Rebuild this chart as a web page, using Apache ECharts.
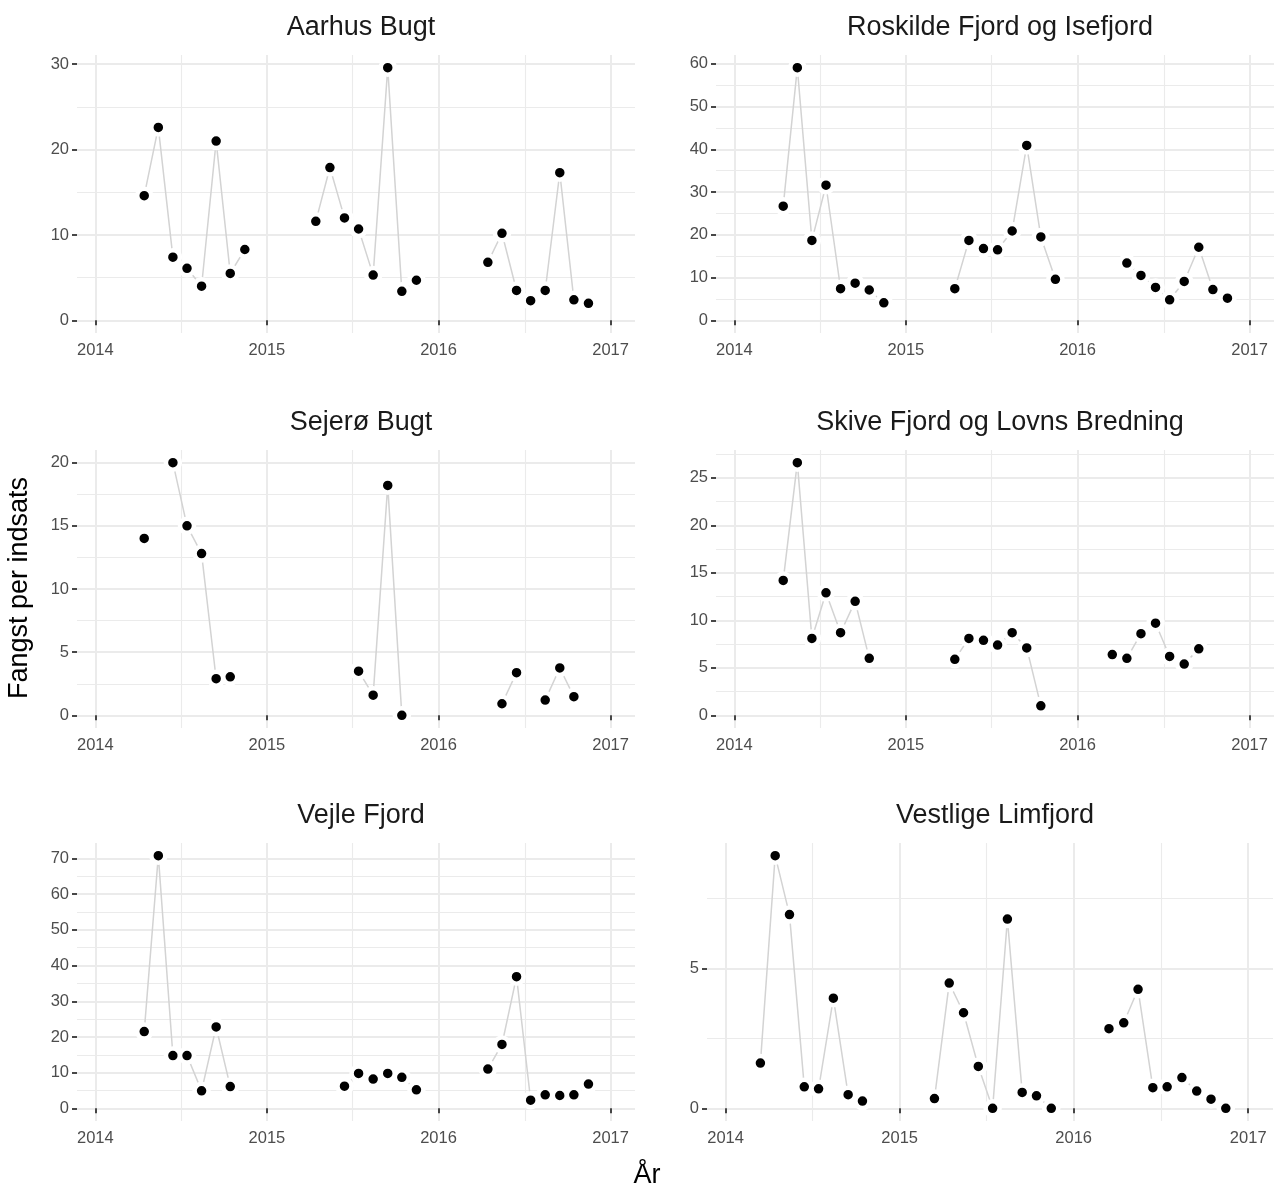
<!DOCTYPE html>
<html><head><meta charset="utf-8">
<script src="https://cdn.jsdelivr.net/npm/echarts@6/dist/echarts.min.js"></script>
<style>html,body{margin:0;padding:0;background:#fff}#c{width:1281px;height:1189px}</style>
</head><body><div id="c"></div>
<script>
// ---- data (month = 'YYYY-MM', plotted at the 15th) ----
const aarhusMonths = ['2014-04','2014-05','2014-06','2014-07','2014-08','2014-09','2014-10','2014-11',
  '2015-04','2015-05','2015-06','2015-07','2015-08','2015-09','2015-10','2015-11',
  '2016-04','2016-05','2016-06','2016-07','2016-08','2016-09','2016-10','2016-11'];
const aarhusValues = [14.6,22.6,7.4,6.1,4.0,21.0,5.5,8.3, 11.6,17.9,12.0,10.7,5.3,29.6,3.4,4.7, 6.8,10.2,3.5,2.3,3.5,17.3,2.4,2.0];
const aarhusYTicks = [0,10,20,30];

const roskildeMonths = ['2014-04','2014-05','2014-06','2014-07','2014-08','2014-09','2014-10','2014-11',
  '2015-04','2015-05','2015-06','2015-07','2015-08','2015-09','2015-10','2015-11',
  '2016-04','2016-05','2016-06','2016-07','2016-08','2016-09','2016-10','2016-11'];
const roskildeValues = [26.7,59.1,18.7,31.6,7.4,8.7,7.1,4.1, 7.4,18.7,16.8,16.5,20.9,40.9,19.5,9.6, 13.4,10.5,7.7,4.8,9.1,17.1,7.2,5.2];
const roskildeYTicks = [0,10,20,30,40,50,60];

const sejeroMonths = ['2014-04','2014-06','2014-07','2014-08','2014-09','2014-10',
  '2015-07','2015-08','2015-09','2015-10',
  '2016-05','2016-06','2016-08','2016-09','2016-10'];
const sejeroValues = [14.0,20.0,15.0,12.8,2.9,3.05, 3.5,1.6,18.2,0.0, 0.92,3.38,1.21,3.75,1.48];
const sejeroYTicks = [0,5,10,15,20];

const skiveMonths = ['2014-04','2014-05','2014-06','2014-07','2014-08','2014-09','2014-10',
  '2015-04','2015-05','2015-06','2015-07','2015-08','2015-09','2015-10',
  '2016-03','2016-04','2016-05','2016-06','2016-07','2016-08','2016-09'];
const skiveValues = [14.2,26.6,8.1,12.9,8.7,12.0,6.0, 5.9,8.1,7.9,7.4,8.7,7.1,1.0, 6.4,6.0,8.6,9.7,6.2,5.4,7.0];
const skiveYTicks = [0,5,10,15,20,25];

const vejleMonths = ['2014-04','2014-05','2014-06','2014-07','2014-08','2014-09','2014-10',
  '2015-06','2015-07','2015-08','2015-09','2015-10','2015-11',
  '2016-04','2016-05','2016-06','2016-07','2016-08','2016-09','2016-10','2016-11'];
const vejleValues = [21.5,70.8,14.8,14.8,4.9,22.8,6.1, 6.2,9.8,8.2,9.8,8.7,5.2, 11.0,17.9,36.9,2.3,3.8,3.6,3.8,6.8];
const vejleYTicks = [0,10,20,30,40,50,60,70];

const vestligeMonths = ['2014-03','2014-04','2014-05','2014-06','2014-07','2014-08','2014-09','2014-10',
  '2015-03','2015-04','2015-05','2015-06','2015-07','2015-08','2015-09','2015-10','2015-11',
  '2016-03','2016-04','2016-05','2016-06','2016-07','2016-08','2016-09','2016-10','2016-11'];
const vestligeValues = [1.62,9.04,6.93,0.77,0.70,3.94,0.49,0.26, 0.35,4.48,3.42,1.5,0.0,6.77,0.57,0.45,0.0, 2.85,3.06,4.26,0.74,0.77,1.1,0.62,0.33,0.0];
const vestligeYTicks = [0,5];

const xYearTicks = [2014,2015,2016,2017];
const panelTitles = ['Aarhus Bugt','Roskilde Fjord og Isefjord','Sejerø Bugt','Skive Fjord og Lovns Bredning','Vejle Fjord','Vestlige Limfjord'];
const yAxisTitle = 'Fangst per indsats';
const xAxisTitle = 'År';

// ---- layout ----
const FONT = '"Liberation Sans", Arial, sans-serif';
const XMIN = Date.UTC(2013,10,23), XMAX = Date.UTC(2017,1,22);
const rows = [[55,333],[450,728],[843,1121]];
const cols = [[77,635],[716,1274]];
const panels = [
  {title:panelTitles[0], months:aarhusMonths, values:aarhusValues, yTicks:aarhusYTicks, col:cols[0], row:rows[0]},
  {title:panelTitles[1], months:roskildeMonths, values:roskildeValues, yTicks:roskildeYTicks, col:cols[1], row:rows[0]},
  {title:panelTitles[2], months:sejeroMonths, values:sejeroValues, yTicks:sejeroYTicks, col:cols[0], row:rows[1]},
  {title:panelTitles[3], months:skiveMonths, values:skiveValues, yTicks:skiveYTicks, col:cols[1], row:rows[1]},
  {title:panelTitles[4], months:vejleMonths, values:vejleValues, yTicks:vejleYTicks, col:cols[0], row:rows[2]},
  {title:panelTitles[5], months:vestligeMonths, values:vestligeValues, yTicks:vestligeYTicks, col:[707,1273], row:rows[2]}
];

function ts(m){ const p=m.split('-').map(Number); return Date.UTC(p[0],p[1]-1,15); }
function mIndex(m){ const p=m.split('-').map(Number); return p[0]*12+p[1]-1; }
const yearTs = xYearTicks.map(y=>Date.UTC(y,0,1));
const yearMinorTs = xYearTicks.slice(0,-1).map(y=>Date.UTC(y,6,2,12));

const grid=[], xAxis=[], yAxis=[], series=[], title=[];
const GRID = '#ebebeb';
panels.forEach((p,i)=>{
  const [l,r]=p.col, [t,b]=p.row;
  grid.push({left:l, top:t, width:r-l, height:b-t, containLabel:false});
  title.push({text:p.title, left:(l+r)/2, top:t-46, textAlign:'center',
    textStyle:{fontFamily:FONT, fontSize:27, fontWeight:'normal', color:'#1a1a1a'}});
  const data=[];
  p.months.forEach((m,k)=>{
    if(k>0 && mIndex(m)-mIndex(p.months[k-1])>1) data.push([ts(p.months[k-1])+86400000*15,'-']);
    data.push([ts(m), p.values[k]]);
  });
  const vmax = Math.max(...p.values);
  const ymin = -0.05*vmax, ymax = vmax*1.05;
  const step = p.yTicks[1]-p.yTicks[0];
  const yMinor = [];
  for(let v=p.yTicks[0]+step/2; v<ymax; v+=step) yMinor.push(v);
  xAxis.push({gridIndex:i, type:'value', min:XMIN, max:XMAX, scale:true,
    axisLine:{show:false},
    axisTick:{show:true, customValues:yearTs, length:5, lineStyle:{color:'#333333', width:1.8}},
    axisLabel:{customValues:yearTs, formatter:v=>String(new Date(v).getUTCFullYear()), color:'#4d4d4d', fontSize:16.5, fontFamily:FONT, margin:9, showMinLabel:true, showMaxLabel:true},
    splitLine:{show:true, lineStyle:{color:GRID, width:2}}});
  xAxis.push({gridIndex:i, type:'value', min:XMIN, max:XMAX, scale:true,
    axisLine:{show:false},
    axisTick:{show:false, customValues:yearMinorTs},
    axisLabel:{show:false, customValues:yearMinorTs},
    splitLine:{show:true, lineStyle:{color:GRID, width:1.1}}});
  yAxis.push({gridIndex:i, type:'value', min:ymin, max:ymax,
    axisLine:{show:false},
    axisTick:{show:true, customValues:p.yTicks, length:5, lineStyle:{color:'#333333', width:1.8}},
    axisLabel:{customValues:p.yTicks, color:'#4d4d4d', fontSize:16.5, fontFamily:FONT, margin:8},
    splitLine:{show:true, lineStyle:{color:GRID, width:2}}});
  yAxis.push({gridIndex:i, type:'value', min:ymin, max:ymax,
    axisLine:{show:false},
    axisTick:{show:false, customValues:yMinor},
    axisLabel:{show:false, customValues:yMinor},
    splitLine:{show:true, lineStyle:{color:GRID, width:1.1}}});
  series.push({type:'line', xAxisIndex:2*i, yAxisIndex:2*i, data:data,
    symbol:'circle', symbolSize:14, showSymbol:true, showAllSymbol:true, connectNulls:false,
    lineStyle:{color:'#d3d3d3', width:1.5},
    itemStyle:{color:'#000000', borderColor:'#ffffff', borderWidth:4.5},
    emphasis:{disabled:true}, silent:true, clip:false});
});

const chart = echarts.init(document.getElementById('c'), null, {renderer:'canvas'});
chart.setOption({
  animation:false, backgroundColor:'#ffffff',
  title, grid, xAxis, yAxis, series,
  graphic:[
    {type:'text', x:20, y:588, rotation:Math.PI/2, style:{text:yAxisTitle, font:'27px '+FONT, fill:'#000', textAlign:'center', textVerticalAlign:'middle'}},
    {type:'text', x:647, y:1176, style:{text:xAxisTitle, font:'27px '+FONT, fill:'#000', textAlign:'center', textVerticalAlign:'middle'}}
  ]
});
</script></body></html>
